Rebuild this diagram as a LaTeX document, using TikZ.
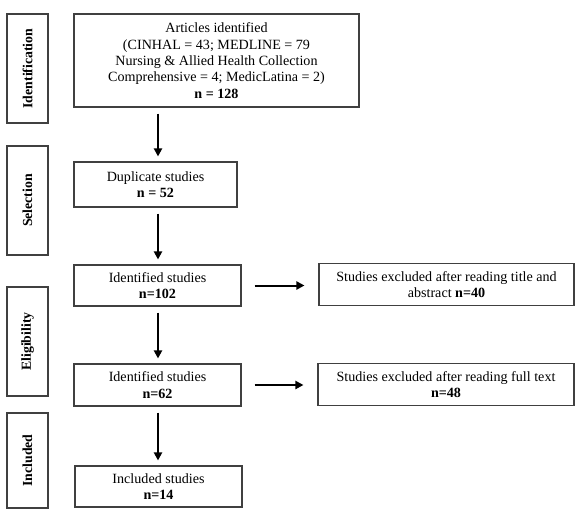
\documentclass[tikz,border=0pt]{standalone}
\usepackage{fontspec}
\setmainfont{Liberation Serif}
\usetikzlibrary{arrows.meta}
\begin{document}
\begin{tikzpicture}[x=1pt,y=-1pt,
  box/.style={draw=black!75, line width=1.1pt, rectangle, inner sep=0pt, align=center,
    font=\fontsize{14.1}{16.4}\selectfont},
  side/.style={draw=black!75, line width=1.1pt, rectangle, inner sep=0pt, minimum width=41pt,
    font=\fontsize{13.8}{16.5}\selectfont\bfseries},
  arr/.style={line width=2pt, -{Triangle[width=8pt,length=8pt]}},
  arrv/.style={arr, shorten <=6pt, shorten >=5pt},
  arrh/.style={arr, shorten <=13pt, shorten >=14pt}]
\useasboundingbox (0,0) rectangle (585,515);
\fill[white] (0,0) rectangle (585,515);
% side labels
\node[side, minimum height=109pt] (sid) at (27.5,68.5) {\rotatebox{90}{Identification}};
\node[side, minimum height=109pt] (ssel) at (27.5,200.5) {\rotatebox{90}{Selection}};
\node[side, minimum height=109pt] (selig) at (27.5,341.5) {\rotatebox{90}{Eligibility}};
\node[side, minimum height=95pt] (sinc) at (27.5,460.5) {\rotatebox{90}{Included}};
% main boxes
\node[box, minimum width=285pt, minimum height=93pt] (top) at (216.5,60.5)
  {Articles identified\\(CINHAL = 43; MEDLINE = 79\\Nursing \& Allied Health Collection\\Comprehensive = 4; MedicLatina = 2)\\\textbf{n = 128}};
\node[box, minimum width=163pt, minimum height=45pt] (dup) at (155.5,184.5)
  {Duplicate studies\\\textbf{n = 52}};
\node[box, minimum width=167pt, minimum height=41pt] (id1) at (157.5,285.5)
  {Identified studies\\\textbf{n=102}};
\node[box, minimum width=255pt, minimum height=42pt] (ex1) at (446.5,284.5)
  {Studies excluded after reading title and\\abstract \textbf{n=40}};
\node[box, minimum width=167pt, minimum height=42pt] (id2) at (157.5,385)
  {Identified studies\\\textbf{n=62}};
\node[box, minimum width=256pt, minimum height=42pt] (ex2) at (446,384.5)
  {Studies excluded after reading full text\\\textbf{n=48}};
\node[box, minimum width=167pt, minimum height=41pt] (inc) at (158.5,486.5)
  {Included studies\\\textbf{n=14}};
% arrows
\coordinate (ax) at (158,0);
\draw[arrv] (top.south -| ax) -- (dup.north -| ax);
\draw[arrv] (dup.south -| ax) -- (id1.north -| ax);
\draw[arrv] (id1.south -| ax) -- (id2.north -| ax);
\draw[arrv] (id2.south -| ax) -- (inc.north -| ax);
\draw[arrh] (id1.east) -- (id1.east -| ex1.west);
\draw[arrh] (id2.east) -- (id2.east -| ex2.west);
\end{tikzpicture}
\end{document}
